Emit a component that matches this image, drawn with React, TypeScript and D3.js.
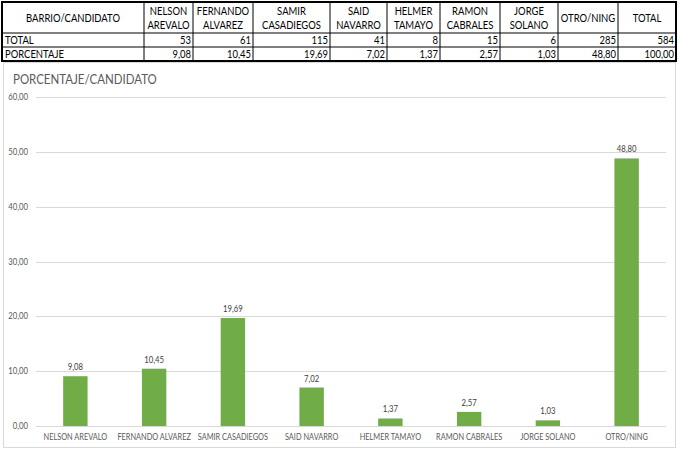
import React from "react";
import * as d3 from "d3";

const categories = [
  "NELSON AREVALO",
  "FERNANDO ALVAREZ",
  "SAMIR CASADIEGOS",
  "SAID NAVARRO",
  "HELMER TAMAYO",
  "RAMON CABRALES",
  "JORGE SOLANO",
  "OTRO/NING",
];
const tableHeaders = [
  ["BARRIO/CANDIDATO"],
  ["NELSON", "AREVALO"],
  ["FERNANDO", "ALVAREZ"],
  ["SAMIR", "CASADIEGOS"],
  ["SAID", "NAVARRO"],
  ["HELMER", "TAMAYO"],
  ["RAMON", "CABRALES"],
  ["JORGE", "SOLANO"],
  ["OTRO/NING"],
  ["TOTAL"],
];
const totals = [53, 61, 115, 41, 8, 15, 6, 285, 584];
const percentages = [9.08, 10.45, 19.69, 7.02, 1.37, 2.57, 1.03, 48.8, 100.0];
const yTicks = [0, 10, 20, 30, 40, 50, 60];
const rowLabels = ["TOTAL", "PORCENTAJE"];
const chartTitle = "PORCENTAJE/CANDIDATO";

const fmt = (v: number) => d3.format(".2f")(v).replace(".", ",");
const FONT = "Lato, 'Open Sans', sans-serif";

type TProps = {
  x: number;
  y: number;
  size: number;
  anchor?: "start" | "middle" | "end";
  fill?: string;
  sx?: number;
  children: React.ReactNode;
};
function T({ x, y, size, anchor = "start", fill = "#000", sx = 0.86, children }: TProps) {
  return (
    <text transform={`translate(${x},${y}) scale(${sx},1)`} textAnchor={anchor} fontSize={size} fill={fill}>
      {children}
    </text>
  );
}

export default function App() {
  const W = 680;
  const H = 451;
  const colEdges = [2, 144, 193, 253, 330, 387, 440, 500, 558, 618, 676];
  const rowEdges = [2, 33, 47, 61];

  const x = d3.scaleBand<string>().domain(categories).range([36, 666]).paddingInner(0.69).paddingOuter(0.345);
  const y = d3.scaleLinear().domain([0, 60]).range([426, 97]);
  const chartValues = percentages.slice(0, categories.length);

  return (
    <svg width={W} height={H} style={{ position: "absolute", left: 0, top: 0, background: "#fff" }} fontFamily={FONT}>
      <rect x={0} y={0} width={W} height={H} fill="#fff" />
      <rect x={3.5} y={62.5} width={672} height={385} fill="none" stroke="#d9d9d9" />
      <g>
        {rowEdges.slice(1, -1).map((ry, i) => (
          <line key={"r" + i} x1={colEdges[0]} x2={colEdges[colEdges.length - 1]} y1={ry} y2={ry} stroke="#000" strokeWidth={1} />
        ))}
        {colEdges.slice(1, -1).map((cx, i) => (
          <line key={"c" + i} x1={cx} x2={cx} y1={rowEdges[0]} y2={rowEdges[rowEdges.length - 1]} stroke="#000" strokeWidth={1} />
        ))}
        <rect x={colEdges[0]} y={rowEdges[0]} width={colEdges[colEdges.length - 1] - colEdges[0]} height={rowEdges[rowEdges.length - 1] - rowEdges[0]} fill="none" stroke="#000" strokeWidth={2} />
        {tableHeaders.map((lines, i) => {
          const cx = (colEdges[i] + colEdges[i + 1]) / 2;
          const mid = (rowEdges[0] + rowEdges[1]) / 2;
          return (
            <g key={"h" + i}>
              {lines.map((l, j) => (
                <T key={j} x={cx} y={mid + 4 + (j - (lines.length - 1) / 2) * 14} size={11} anchor="middle">
                  {l}
                </T>
              ))}
            </g>
          );
        })}
        {rowLabels.map((lab, r) => (
          <T key={"rl" + r} x={colEdges[0] + 3} y={rowEdges[r + 2] - 3} size={11}>
            {lab}
          </T>
        ))}
        {totals.map((v, i) => (
          <T key={"t" + i} x={colEdges[i + 2] - 2} y={rowEdges[2] - 3} size={11} anchor="end">
            {v}
          </T>
        ))}
        {percentages.map((v, i) => (
          <T key={"p" + i} x={colEdges[i + 2] - 2} y={rowEdges[3] - 3} size={11} anchor="end">
            {fmt(v)}
          </T>
        ))}
      </g>
      <T x={13} y={84} size={14} fill="#595959" sx={0.82}>
        {chartTitle}
      </T>
      {yTicks.map((t) => (
        <g key={"y" + t}>
          <line x1={36} x2={666} y1={Math.round(y(t)) + 0.5} y2={Math.round(y(t)) + 0.5} stroke="#d9d9d9" />
          <T x={28} y={y(t) + 3} size={9} anchor="end" fill="#595959">
            {fmt(t)}
          </T>
        </g>
      ))}
      {categories.map((c, i) => (
        <g key={"b" + i}>
          <rect x={x(c)} y={y(chartValues[i])} width={x.bandwidth()} height={y(0) - y(chartValues[i])} fill="#70AD47" />
          <T x={(x(c) as number) + x.bandwidth() / 2} y={y(chartValues[i]) - 6} size={9} anchor="middle" fill="#404040">
            {fmt(chartValues[i])}
          </T>
          <T x={(x(c) as number) + x.bandwidth() / 2} y={440} size={9} anchor="middle" fill="#595959" sx={0.82}>
            {c}
          </T>
        </g>
      ))}
    </svg>
  );
}
